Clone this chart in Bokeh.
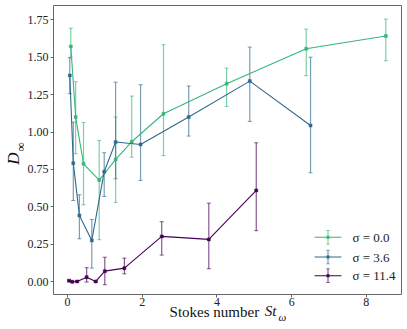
import numpy as np
from bokeh.plotting import figure
from bokeh.models import (ColumnDataSource, Whisker, TeeHead, Label, BoxAnnotation,
                          FixedTicker, NumeralTickFormatter, Range1d, LinearAxis)
from bokeh.embed import file_html
from bokeh.resources import INLINE

# ---- data ----
x_s0 = [0.09, 0.22, 0.43, 0.85, 1.29, 1.72, 2.57, 4.26, 6.39, 8.52]
y_s0 = [1.572, 1.10, 0.788, 0.679, 0.817, 0.935, 1.122, 1.323, 1.556, 1.641]
hi_s0 = [1.694, 1.336, 1.064, 0.944, 1.10, 1.24, 1.583, 1.427, 1.687, 1.754]
lo_s0 = [1.50, 0.855, 0.514, 0.281, 0.53, 0.832, 0.842, 1.171, 1.376, 1.476]

x_s1 = [0.063, 0.157, 0.32, 0.652, 0.984, 1.289, 1.957, 3.245, 4.88, 6.506]
y_s1 = [1.378, 0.792, 0.443, 0.276, 0.735, 0.933, 0.917, 1.10, 1.34, 1.044]
hi_s1 = [1.496, 1.066, 0.581, 0.416, 0.862, 1.333, 1.316, 1.307, 1.567, 1.50]
lo_s1 = [1.256, 0.543, 0.287, 0.091, 0.57, 0.688, 0.677, 0.973, 1.071, 0.728]

x_s2 = [0.044, 0.13, 0.26, 0.514, 0.757, 1.0, 1.524, 2.523, 3.783, 5.053]
y_s2 = [0.007, 0.0, 0.002, 0.031, 0.002, 0.071, 0.091, 0.303, 0.283, 0.61]
hi_s2 = [0.012, 0.005, 0.007, 0.094, 0.006, 0.164, 0.158, 0.401, 0.525, 0.928]
lo_s2 = [0.002, -0.004, -0.002, -0.002, -0.002, -0.02, 0.053, 0.178, 0.087, 0.341]

series_labels = ["σ = 0.0", "σ = 3.6", "σ = 11.4"]
colors = ["#35b779", "#31688e", "#440154"]
x_ticks = [0, 2, 4, 6, 8]
y_ticks = [0.0, 0.25, 0.5, 0.75, 1.0, 1.25, 1.5, 1.75]

SERIF = "Liberation Serif"
GREY = "#666666"
INK = "#111111"
NB = "\u00a0"

p = figure(width=406, height=328, output_backend="svg", toolbar_location=None,
           x_range=Range1d(-0.373, 8.94), y_range=Range1d(-0.085, 1.845),
           min_border_left=44, min_border_right=5, min_border_top=5, min_border_bottom=34)
p.background_fill_color = "white"
p.border_fill_color = "white"
p.grid.visible = False
p.outline_line_color = GREY
p.outline_line_width = 1

for ax in (p.xaxis[0], p.yaxis[0]):
    ax.axis_line_color = None
    ax.major_tick_line_color = GREY
    ax.major_tick_in = 0
    ax.major_tick_out = 3
    ax.minor_tick_line_color = None
    ax.minor_tick_out = 0
    ax.major_label_text_font = SERIF
    ax.major_label_text_font_size = "12px"
    ax.major_label_text_color = "#222222"
p.xaxis.ticker = FixedTicker(ticks=x_ticks)
p.yaxis.ticker = FixedTicker(ticks=y_ticks)
p.xaxis.formatter = NumeralTickFormatter(format="0")
p.yaxis.formatter = NumeralTickFormatter(format="0.00")
p.xaxis.major_label_standoff = 0
p.yaxis.major_label_standoff = 2

all_series = [(x_s0, y_s0, lo_s0, hi_s0), (x_s1, y_s1, lo_s1, hi_s1), (x_s2, y_s2, lo_s2, hi_s2)]
for (xs, ys, lo, hi), c in zip(all_series, colors):
    src = ColumnDataSource(dict(x=xs, y=ys, lo=lo, hi=hi))
    w = Whisker(source=src, base="x", upper="hi", lower="lo", dimension="height",
                line_color=c, line_alpha=0.65, line_width=1.2,
                upper_head=TeeHead(size=4, line_color=c, line_alpha=0.65, line_width=1),
                lower_head=TeeHead(size=4, line_color=c, line_alpha=0.65, line_width=1))
    p.add_layout(w)
    p.line("x", "y", source=src, line_color=c, line_width=1.1)
    p.scatter("x", "y", source=src, marker="square", size=3, line_width=0.5,
              fill_color=c, line_color=c)


# ---- axis titles: label-only axes (allow italic parts and subscripts) ----
def title_axis(side, text, size, style, standoff):
    ax = LinearAxis(ticker=FixedTicker(ticks=[]), axis_label=text,
                    axis_label_standoff=standoff, axis_label_text_font=SERIF,
                    axis_label_text_font_size=size, axis_label_text_font_style=style,
                    axis_label_text_color=INK, axis_line_color=None,
                    major_tick_in=0, major_tick_out=0, minor_tick_in=0, minor_tick_out=0,
                    major_label_text_font_size="0px")
    p.add_layout(ax, side)

# y: D with subscript infinity (inner panel first)
title_axis("left", NB * 2 + "∞", "13px", "normal", -3)
title_axis("left", "D" + NB * 4, "17px", "italic", -13)
# x: "Stokes number St_ω"
title_axis("below", "Stokes number" + NB * 7, "15px", "normal", -5)
title_axis("below", NB * 23 + "St", "15px", "italic", -20)
title_axis("below", NB * 40 + "ω", "11px", "italic", -12)

# ---- legend (manual, frame-relative screen units) ----
row_y = [57.3, 37.5, 18.7]
gx0, gx1 = 261, 288
gxc = (gx0 + gx1) / 2
for lab, c, ry in zip(series_labels, colors, row_y):
    def box(l, r, b, t, alpha=1.0):
        p.add_layout(BoxAnnotation(left=l, right=r, bottom=b, top=t,
                                   left_units="screen", right_units="screen",
                                   bottom_units="screen", top_units="screen",
                                   fill_color=c, fill_alpha=alpha, line_alpha=0,
                                   level="overlay"))
    box(gx0, gx1, ry - 0.55, ry + 0.55)
    box(gxc - 0.6, gxc + 0.6, ry - 7, ry + 7, 0.65)
    box(gxc - 2, gxc + 2, ry + 6.5, ry + 7.3, 0.65)
    box(gxc - 2, gxc + 2, ry - 7.3, ry - 6.5, 0.65)
    box(gxc - 1.5, gxc + 1.5, ry - 1.5, ry + 1.5)
    p.add_layout(Label(x=299, y=ry, x_units="screen", y_units="screen", text=lab,
                       text_font=SERIF, text_font_size="13px", text_align="left",
                       text_baseline="middle", text_color="#222222"))

open("out.html", "w").write(file_html(p, INLINE))
